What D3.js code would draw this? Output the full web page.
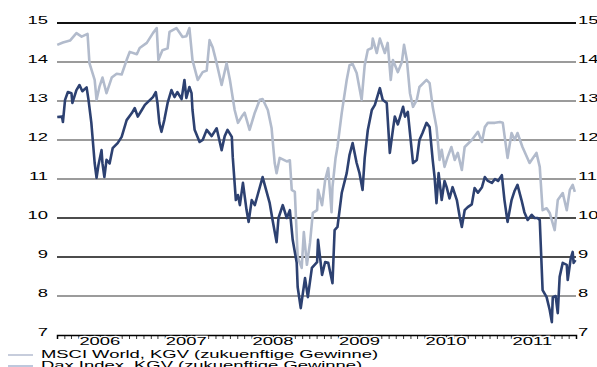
<!DOCTYPE html>
<html>
<head>
<meta charset="utf-8">
<script src="https://cdn.jsdelivr.net/npm/d3@7"></script>
<style>
  html, body { margin: 0; padding: 0; background: #fff; }
  svg { display: block; }
  text { font-family: "Liberation Sans", Arial, sans-serif; fill: #000; }
</style>
</head>
<body>
<svg id="chart" width="597" height="367"></svg>
<script>
// KGV (forward P/E) series, MSCI World
const msciDates = ["2006-01-02","2006-01-26","2006-02-25","2006-03-24","2006-04-15","2006-05-10","2006-05-18","2006-06-09","2006-06-17","2006-06-29","2006-07-12","2006-07-29","2006-08-20","2006-09-10","2006-10-01","2006-10-22","2006-11-04","2006-12-04","2006-12-16",
  "2007-01-15","2007-02-10","2007-02-26","2007-03-05","2007-03-22","2007-04-13","2007-04-21","2007-05-20","2007-06-15","2007-07-01","2007-07-14","2007-07-27","2007-08-18","2007-09-08","2007-09-25","2007-10-07","2007-10-20","2007-11-06","2007-11-27","2007-12-18",
  "2008-01-01","2008-01-21","2008-02-04","2008-02-20","2008-03-03","2008-03-24","2008-04-15","2008-05-06","2008-05-18","2008-06-09","2008-06-25","2008-07-08","2008-07-16","2008-07-29","2008-08-28","2008-09-10","2008-09-18","2008-10-01","2008-10-13","2008-10-30","2008-11-08","2008-11-21","2008-12-04","2008-12-16",
  "2009-01-03","2009-01-07","2009-01-24","2009-02-06","2009-02-19","2009-03-05","2009-03-09","2009-03-22","2009-03-30","2009-04-08","2009-04-17","2009-05-08","2009-05-20","2009-06-02","2009-06-19","2009-07-10","2009-07-23","2009-08-05","2009-08-22","2009-08-26","2009-09-12","2009-09-25","2009-10-16","2009-10-28","2009-11-10","2009-11-19","2009-12-10","2009-12-27",
  "2010-01-05","2010-01-17","2010-01-30","2010-02-12","2010-02-28","2010-03-11","2010-04-10","2010-04-23","2010-05-06","2010-05-22","2010-06-04","2010-06-13","2010-06-25","2010-07-08","2010-07-24","2010-08-07","2010-08-20","2010-09-06","2010-09-18","2010-10-18","2010-11-13","2010-11-30","2010-12-12","2010-12-25",
  "2011-01-24","2011-02-14","2011-02-26","2011-03-18","2011-04-04","2011-04-17","2011-04-29","2011-05-20","2011-06-19","2011-07-18","2011-08-01","2011-08-13","2011-08-30","2011-09-12","2011-10-03","2011-10-16","2011-11-06","2011-11-23","2011-12-06","2011-12-18","2011-12-27"];
const msciValues = [14.44,14.5,14.55,14.74,14.65,14.72,13.97,13.54,13.03,13.36,13.6,13.2,13.6,13.7,13.68,14.05,14.26,14.2,14.36,
  14.49,14.74,14.87,14.05,14.3,14.35,14.77,14.87,14.64,14.66,14.87,14.05,13.54,13.74,13.78,14.56,14.38,13.97,13.41,13.97,
  13.54,12.77,12.44,12.6,12.7,12.26,12.7,13.03,13.05,12.77,12.3,11.41,11.15,11.54,11.45,11.48,10.72,10.67,9.0,8.72,9.64,8.8,9.36,10.13,
  10.2,10.72,10.33,10.97,11.28,10.15,10.8,11.54,11.82,12.26,12.69,13.54,13.92,13.95,13.72,13.03,13.92,14.31,14.36,14.6,14.23,14.6,14.23,14.49,13.54,14.05,13.74,14.0,
  14.44,14.05,13.2,12.85,13.03,13.36,13.54,13.46,12.85,12.33,11.49,11.75,11.31,11.56,11.82,11.49,11.67,11.23,11.82,12.0,12.21,11.95,12.33,12.44,
  12.44,12.46,12.44,11.54,12.18,12.0,12.18,11.82,11.41,11.67,11.31,10.2,10.25,10.13,9.69,10.46,10.64,10.2,10.72,10.85,10.67];

// KGV (forward P/E) series, Dax Index
const daxDates = ["2006-01-02","2006-01-22","2006-01-26","2006-02-04","2006-02-16","2006-03-03","2006-03-07","2006-03-24","2006-04-06","2006-04-18","2006-05-06","2006-05-14","2006-05-26","2006-06-09","2006-06-17","2006-06-25","2006-07-08","2006-07-12","2006-07-20","2006-07-29","2006-08-11","2006-08-24","2006-09-14","2006-10-01","2006-10-22","2006-11-13","2006-11-25","2006-12-08","2006-12-25",
  "2007-01-07","2007-01-19","2007-02-10","2007-02-22","2007-03-01","2007-03-09","2007-03-18","2007-03-30","2007-04-13","2007-04-29","2007-05-12","2007-05-24","2007-06-11","2007-06-23","2007-07-01","2007-07-14","2007-07-23","2007-07-27","2007-08-05","2007-08-26","2007-09-08","2007-09-25","2007-10-16","2007-11-06","2007-11-27","2007-12-10","2007-12-22",
  "2008-01-09","2008-01-13","2008-01-26","2008-02-04","2008-02-12","2008-02-25","2008-03-11","2008-03-20","2008-04-02","2008-04-15","2008-04-27","2008-05-18","2008-06-04","2008-06-17","2008-06-29","2008-07-16","2008-07-24","2008-08-11","2008-08-28","2008-09-10","2008-09-22","2008-10-09","2008-10-13","2008-10-26","2008-11-13","2008-11-25","2008-12-12",
  "2009-01-03","2009-01-07","2009-01-24","2009-02-06","2009-02-19","2009-03-09","2009-03-18","2009-03-30","2009-04-17","2009-05-08","2009-05-20","2009-06-02","2009-06-19","2009-07-01","2009-07-14","2009-07-23","2009-08-05","2009-08-22","2009-09-04","2009-09-25","2009-10-07","2009-10-24","2009-11-06","2009-11-19","2009-11-27","2009-12-10",
  "2010-01-01","2010-01-09","2010-01-21","2010-01-30","2010-02-12","2010-02-28","2010-03-11","2010-03-24","2010-04-10","2010-04-23","2010-05-06","2010-05-14","2010-05-22","2010-05-31","2010-06-13","2010-06-25","2010-07-04","2010-07-16","2010-07-29","2010-08-16","2010-08-28","2010-09-06","2010-09-18","2010-10-01","2010-10-18","2010-10-30","2010-11-13","2010-11-30","2010-12-12","2010-12-25",
  "2011-01-11","2011-01-24","2011-02-06","2011-02-22","2011-03-05","2011-03-18","2011-04-04","2011-04-17","2011-04-29","2011-05-16","2011-05-28","2011-06-11","2011-06-28","2011-07-10","2011-07-23","2011-08-01","2011-08-13","2011-08-30","2011-09-12","2011-09-21","2011-09-25","2011-10-07","2011-10-16","2011-10-24","2011-11-06","2011-11-23","2011-11-27","2011-12-10","2011-12-18","2011-12-22","2011-12-30"];
const daxValues = [12.59,12.6,12.46,13.03,13.23,13.2,12.95,13.28,13.41,13.25,13.35,13.03,12.44,11.41,11.03,11.36,11.74,11.4,11.05,11.49,11.4,11.79,11.92,12.08,12.51,12.69,12.82,12.6,12.77,
  12.9,12.97,13.1,13.23,12.95,12.44,12.21,12.51,12.95,13.28,13.1,13.23,13.05,13.54,13.08,13.36,13.2,12.77,12.26,11.95,12.0,12.26,12.1,12.3,11.74,12.1,12.26,
  12.08,11.56,10.46,10.59,10.33,10.9,10.21,9.9,10.46,10.33,10.59,11.05,10.67,10.38,9.95,9.38,10.0,10.33,10.0,10.2,9.44,8.85,8.23,7.69,8.46,7.97,8.72,
  8.87,9.44,8.54,8.87,8.85,8.33,9.69,9.77,10.64,11.15,11.62,11.92,11.41,11.15,10.72,11.54,12.25,12.77,12.9,13.33,13.03,12.95,11.67,12.26,12.6,12.4,
  12.85,12.6,12.72,12.18,11.41,11.49,12.0,12.18,12.44,12.33,11.49,11.05,10.38,11.15,10.46,10.95,10.79,10.5,10.79,10.46,10.03,9.77,10.2,10.28,10.35,10.77,10.65,10.79,11.05,10.95,
  10.9,11.0,10.95,11.1,10.46,9.9,10.46,10.7,10.85,10.46,10.15,9.95,10.08,10.0,10.0,9.95,8.15,7.97,7.64,7.33,7.97,8.0,7.56,8.49,8.85,8.8,8.41,8.97,9.13,8.85,8.92];

const yTicks = [7, 8, 9, 10, 11, 12, 13, 14, 15];
const yearLabels = ["2006", "2007", "2008", "2009", "2010", "2011"];
const legendLabels = ["MSCI World, KGV (zukuenftige Gewinne)", "Dax Index, KGV (zukuenftige Gewinne)"];

// Gridlines drawn in black rather than grey
const blackGrid = new Set([15, 10, 9]);

const parse = d3.timeParse("%Y-%m-%d");
const msci = msciDates.map((d, i) => ({ date: parse(d), value: msciValues[i] }));
const dax = daxDates.map((d, i) => ({ date: parse(d), value: daxValues[i] }));

const svg = d3.select("#chart");
const plotLeft = 57, plotRight = 576, plotTop = 23, plotBottom = 335;
const STRETCH = 1.6;   // wide lettering
const FONT = 11.5;

const x = d3.scaleTime()
  .domain([new Date(2006, 0, 1), new Date(2012, 0, 1)])
  .range([plotLeft, plotRight]);
const y = d3.scaleLinear().domain([7, 15]).range([plotBottom, plotTop]);

function widen(sel) {
  sel.each(function () {
    const len = this.getComputedTextLength();
    d3.select(this).attr("textLength", len * STRETCH).attr("lengthAdjust", "spacingAndGlyphs");
  });
}

// horizontal gridlines
svg.append("g").selectAll("line")
  .data(yTicks.filter(v => v > 7))
  .join("line")
  .attr("x1", plotLeft).attr("x2", plotRight)
  .attr("y1", d => y(d)).attr("y2", d => y(d))
  .attr("stroke", d => blackGrid.has(d) ? "#111" : "#7a7a7a")
  .attr("stroke-width", d => d === 15 ? 2 : 1.3);

// y labels, both sides
const yl = svg.append("g").attr("font-size", FONT);
yl.selectAll("text.l").data(yTicks).join("text")
  .attr("class", "l")
  .attr("x", 48).attr("y", d => y(d) + 1)
  .attr("text-anchor", "end")
  .text(d => d)
  .call(widen);
yl.selectAll("text.r").data(yTicks).join("text")
  .attr("class", "r")
  .attr("x", 578).attr("y", d => y(d) + 1)
  .text(d => d)
  .call(widen);

// series
const line = d3.line().x(d => x(d.date)).y(d => y(d.value));
svg.append("path").datum(msci)
  .attr("fill", "none").attr("stroke", "#b2bbcc").attr("stroke-width", 2.6)
  .attr("stroke-linejoin", "round").attr("d", line);
svg.append("path").datum(dax)
  .attr("fill", "none").attr("stroke", "#2d4171").attr("stroke-width", 2.6)
  .attr("stroke-linejoin", "round").attr("d", line);

// bottom axis with monthly ticks
const axis = d3.axisBottom(x)
  .ticks(d3.timeMonth.every(1))
  .tickSize(4)
  .tickFormat("");
const ax = svg.append("g").attr("transform", `translate(0,${plotBottom})`).call(axis);
ax.select(".domain").attr("stroke", "#000").attr("stroke-width", 1.5);
ax.selectAll(".tick line").attr("stroke", "#000").attr("stroke-width", 0.8);

// year labels centred in each year
svg.append("g").attr("font-size", FONT)
  .selectAll("text").data(yearLabels).join("text")
  .attr("x", d => x(new Date(+d, 6, 1)))
  .attr("y", 345)
  .attr("text-anchor", "middle")
  .attr("stroke", "#fff").attr("stroke-width", 2.5).attr("paint-order", "stroke")
  .text(d => d)
  .call(widen);

// legend
const lg = svg.append("g").attr("font-size", FONT);
const swatchColors = ["#b4bdd0", "#a9b6d2"];
legendLabels.forEach((t, i) => {
  const yy = 357 + i * 11;
  lg.append("line").attr("x1", 8).attr("x2", 33).attr("y1", yy - 2).attr("y2", yy - 2)
    .attr("stroke", swatchColors[i]).attr("stroke-width", 1.5);
  lg.append("text").attr("x", 41).attr("y", yy + 1).text(t).call(widen);
});
</script>
</body>
</html>
